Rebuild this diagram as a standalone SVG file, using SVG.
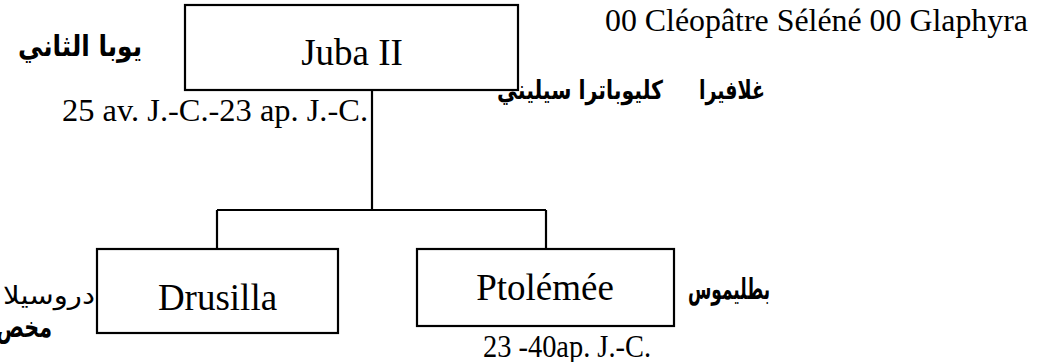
<svg xmlns="http://www.w3.org/2000/svg" width="1056" height="362" viewBox="0 0 1056 362">
  <style>
    .box { fill: #ffffff; stroke: #000000; stroke-width: 2.2; }
    .wire { fill: none; stroke: #000000; stroke-width: 2.2; }
    .name { font-family: "Liberation Serif", "Times New Roman", serif; font-size: 37px; fill: #000; text-anchor: middle; }
    .note { font-family: "Liberation Serif", "Times New Roman", serif; font-size: 32px; fill: #000; }
    .ar { font-family: "DejaVu Sans", "Liberation Sans", sans-serif; font-size: 29px; font-weight: bold; fill: #000; text-anchor: end; }
    .ar-sm { font-size: 26px; }
    .ar-reg { font-family: "DejaVu Sans", "Liberation Sans", sans-serif; font-size: 25px; fill: #000; text-anchor: end; }
  </style>
  <rect width="1056" height="362" fill="#ffffff"/>

  <!-- family tree lines -->
  <g id="connectors">
    <path class="wire" d="M372 90 V210"/>
    <path class="wire" d="M217 210 H546"/>
    <path class="wire" d="M217 210 V249"/>
    <path class="wire" d="M546 210 V249"/>
  </g>

  <g id="juba">
    <rect class="box" x="185" y="5" width="333" height="85"/>
    <text class="name" x="352" y="65">Juba II</text>
    <text class="ar" x="142" y="56" textLength="124" lengthAdjust="spacingAndGlyphs">يوبا الثاني</text>
    <text class="note" x="62" y="121" textLength="306" lengthAdjust="spacingAndGlyphs">25 av. J.-C.-23 ap. J.-C.</text>
  </g>

  <g id="spouses">
    <text class="note" x="605" y="31" textLength="423" lengthAdjust="spacingAndGlyphs">00 Cléopâtre Séléné 00 Glaphyra</text>
    <text class="ar ar-sm" x="663" y="99" textLength="166" lengthAdjust="spacingAndGlyphs">كليوباترا سيليني</text>
    <text class="ar ar-sm" x="765" y="99" textLength="66" lengthAdjust="spacingAndGlyphs">غلافيرا</text>
  </g>

  <g id="drusilla">
    <rect class="box" x="97" y="249" width="241" height="84"/>
    <text class="name" x="217.5" y="310">Drusilla</text>
    <text class="ar-reg" x="95" y="304" textLength="92" lengthAdjust="spacingAndGlyphs">دروسيلا</text>
    <text class="ar" x="52" y="337" textLength="56" lengthAdjust="spacingAndGlyphs">مخص</text>
  </g>

  <g id="ptolemee">
    <rect class="box" x="417" y="249" width="257" height="77"/>
    <text class="name" x="545" y="300">Ptolémée</text>
    <text class="ar" x="770" y="299" textLength="82" lengthAdjust="spacingAndGlyphs">بطليموس</text>
    <text class="note" x="483" y="357" font-size="28" textLength="168" lengthAdjust="spacingAndGlyphs">23 -40ap. J.-C.</text>
  </g>
</svg>
